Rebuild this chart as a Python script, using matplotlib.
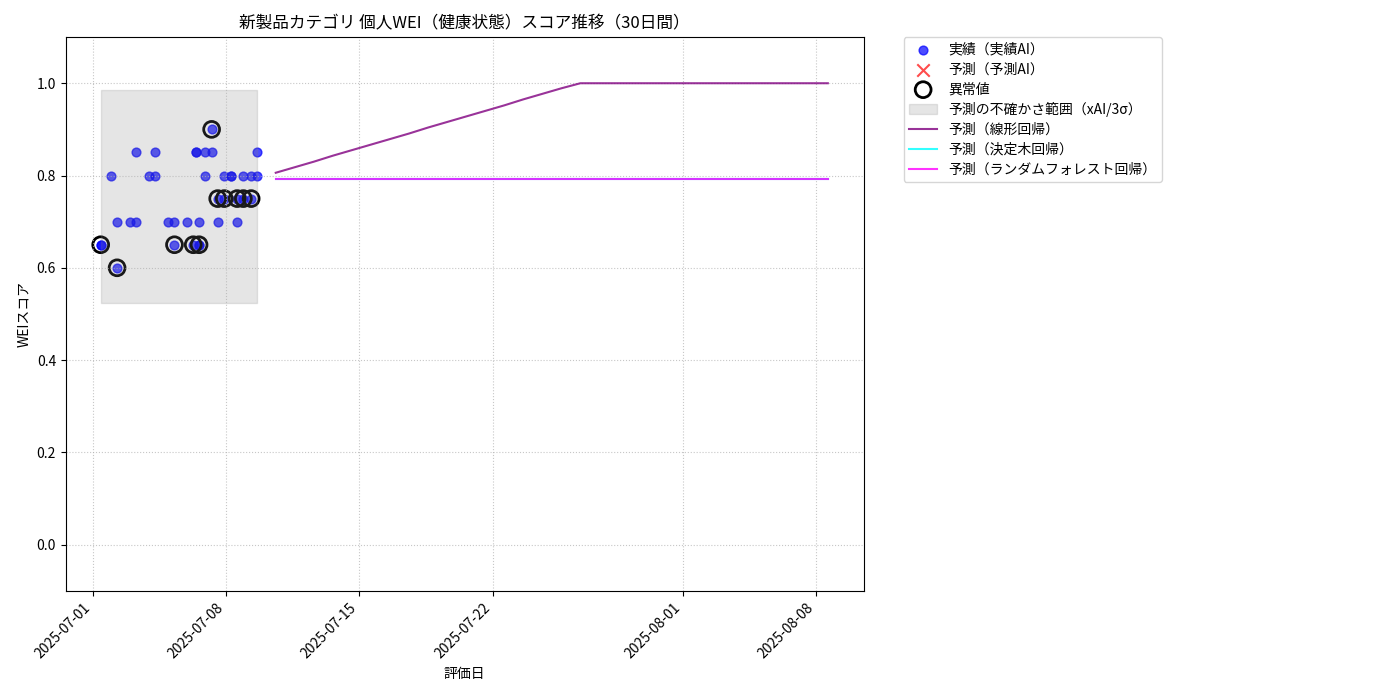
import pandas as pd
import matplotlib
matplotlib.use("Agg")
from matplotlib import pyplot as plt

plt.rcParams['font.family'] = ['Noto Sans CJK JP', 'DejaVu Sans']

# actual scores (timestamp, score)
actual_times = [
    "2025-07-01 10:00", "2025-07-01 10:00", "2025-07-01 22:50",
    "2025-07-02 06:40", "2025-07-02 06:40", "2025-07-02 22:50",
    "2025-07-03 07:00", "2025-07-03 07:00", "2025-07-03 22:50",
    "2025-07-04 07:00", "2025-07-04 07:00", "2025-07-04 22:20",
    "2025-07-05 07:00", "2025-07-05 07:00", "2025-07-05 23:00",
    "2025-07-06 06:40", "2025-07-06 10:00", "2025-07-06 10:00",
    "2025-07-06 14:00", "2025-07-06 14:00", "2025-07-06 14:00",
    "2025-07-06 22:00", "2025-07-06 22:00", "2025-07-07 05:50",
    "2025-07-07 05:50", "2025-07-07 13:30", "2025-07-07 14:10",
    "2025-07-07 21:50", "2025-07-07 21:50", "2025-07-08 06:15",
    "2025-07-08 06:15", "2025-07-08 14:00", "2025-07-08 14:00",
    "2025-07-08 21:50", "2025-07-08 21:50", "2025-07-09 07:40",
    "2025-07-09 07:40", "2025-07-09 14:40", "2025-07-09 14:40",
]
actual_scores = [
    0.65, 0.65, 0.80,
    0.70, 0.60, 0.70,
    0.85, 0.70, 0.80,
    0.85, 0.80, 0.70,
    0.70, 0.65, 0.70,
    0.65, 0.85, 0.85,
    0.70, 0.65, 0.65,
    0.85, 0.80, 0.90,
    0.85, 0.75, 0.70,
    0.80, 0.75, 0.80,
    0.80, 0.75, 0.70,
    0.80, 0.75, 0.80,
    0.75, 0.85, 0.80,
]

# anomalies flagged
anomaly_times = [
    "2025-07-01 10:00", "2025-07-02 06:40", "2025-07-05 07:00",
    "2025-07-06 06:40", "2025-07-06 14:00", "2025-07-07 05:50",
    "2025-07-07 13:30", "2025-07-07 21:50", "2025-07-08 14:00",
    "2025-07-08 21:50", "2025-07-09 07:40",
]
anomaly_scores = [0.65, 0.60, 0.65, 0.65, 0.65, 0.90, 0.75, 0.75, 0.75, 0.75, 0.75]

# uncertainty band (mean +/- 3 sigma)
band_low = 0.523
band_high = 0.986

# 30-day forecasts
forecast_times = pd.date_range("2025-07-10 14:40", periods=30, freq="D")
pred_linear = [0.806, 0.818, 0.830, 0.843, 0.855, 0.867, 0.879, 0.891, 0.904, 0.916,
               0.928, 0.940, 0.952, 0.965, 0.977, 0.989, 1.0, 1.0, 1.0, 1.0,
               1.0, 1.0, 1.0, 1.0, 1.0, 1.0, 1.0, 1.0, 1.0, 1.0]
pred_tree = [0.792] * 30
pred_forest = [0.792] * 30

actual_times = pd.to_datetime(actual_times)
anomaly_times = pd.to_datetime(anomaly_times)

fig, ax = plt.subplots(figsize=(14, 7), dpi=100)

ax.scatter(actual_times, actual_scores, color='blue', alpha=0.7, s=40, label='実績（実績AI）')
ax.scatter([], [], color='red', marker='x', alpha=0.7, s=80, label='予測（予測AI）')
ax.scatter(anomaly_times, anomaly_scores, facecolors='none', edgecolors='black',
           s=130, linewidths=2, label='異常値')
ax.fill_between([actual_times.min(), actual_times.max()], band_low, band_high,
                color='gray', alpha=0.2, label='予測の不確かさ範囲（xAI/3σ）')
ax.plot(forecast_times, pred_linear, color='purple', alpha=0.8, linewidth=1.5, label='予測（線形回帰）')
ax.plot(forecast_times, pred_tree, color='cyan', alpha=0.8, linewidth=1.5, label='予測（決定木回帰）')
ax.plot(forecast_times, pred_forest, color='magenta', alpha=0.8, linewidth=1.5, label='予測（ランダムフォレスト回帰）')

ax.set_ylim(-0.1, 1.1)
ax.set_xlim(pd.Timestamp("2025-06-29 14:00"), pd.Timestamp("2025-08-10 12:00"))
ax.set_title('新製品カテゴリ 個人WEI（健康状態）スコア推移（30日間）', fontsize=12)
ax.set_xlabel('評価日')
ax.set_ylabel('WEIスコア')
ax.grid(True, linestyle=':', alpha=0.7)
plt.setp(ax.get_xticklabels(), rotation=45, ha='right')
ax.legend(bbox_to_anchor=(1.05, 1), loc='upper left', borderaxespad=0., labelspacing=0.42)

fig.subplots_adjust(left=0.047, right=0.617, top=0.947, bottom=0.156)
fig.savefig('out.png')
